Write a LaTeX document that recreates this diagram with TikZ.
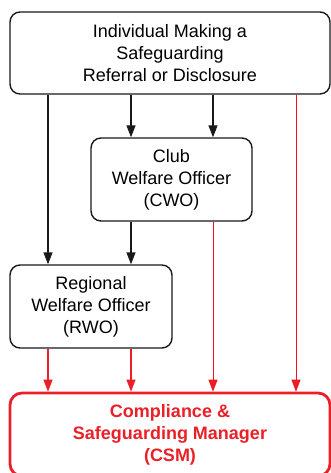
\documentclass[tikz,border=0pt]{standalone}
\usepackage{fontspec}
\setmainfont{Liberation Sans}
\usetikzlibrary{arrows.meta}
\definecolor{csmred}{RGB}{234,32,40}
\definecolor{linered}{RGB}{240,20,30}
\begin{document}
\begin{tikzpicture}[x=1pt,y=-1pt,
  box/.style={draw=black!90,line width=1.4pt,rounded corners=10pt,inner sep=0pt,
    align=center,font=\fontsize{18}{22}\selectfont},
  csmbox/.style={draw=csmred,line width=2.8pt,rounded corners=12pt,inner sep=0pt,
    align=center,text=csmred,font=\fontsize{18}{22}\selectfont\bfseries},
  arr/.style={line width=1.4pt,draw=black!90,-{Triangle[length=12pt,width=9pt]}},
  rarr/.style={line width=1.3pt,draw=csmred,-{Triangle[length=12pt,width=9pt]}},
  rarrthin/.style={line width=1pt,draw=linered,-{Triangle[length=12pt,width=9pt,fill=csmred]}}
]
\useasboundingbox (0,0) rectangle (331,473);
\clip (0,0) rectangle (331,473);
\node[box,minimum width=320pt,minimum height=82pt] (top) at (170,53)
  {Individual Making a\\Safeguarding\\Referral or Disclosure};
\node[box,minimum width=161pt,minimum height=83pt] (cwo) at (171.5,179.5)
  {Club\\Welfare Officer\\(CWO)};
\node[box,minimum width=162pt,minimum height=83pt] (rwo) at (91,306.5)
  {Regional\\Welfare Officer\\(RWO)};
\node[csmbox,minimum width=320pt,minimum height=83pt] (csm) at (170,434.5)
  {Compliance \&\\Safeguarding Manager\\(CSM)};
\draw[arr] (top.south -| 48,0) -- (rwo.north -| 48,0);
\draw[arr] (top.south -| 131,0) -- (cwo.north -| 131,0);
\draw[arr] (top.south -| 213,0) -- (cwo.north -| 213,0);
\draw[arr] (cwo.south -| 131,0) -- (rwo.north -| 131,0);
\draw[rarr] (rwo.south -| 48,0) -- (csm.north -| 48,0);
\draw[rarr] (rwo.south -| 131,0) -- (csm.north -| 131,0);
\draw[rarrthin] (cwo.south -| 213,0) -- (csm.north -| 213,0);
\draw[rarrthin] (top.south -| 296,0) -- (csm.north -| 296,0);
\end{tikzpicture}
\end{document}
